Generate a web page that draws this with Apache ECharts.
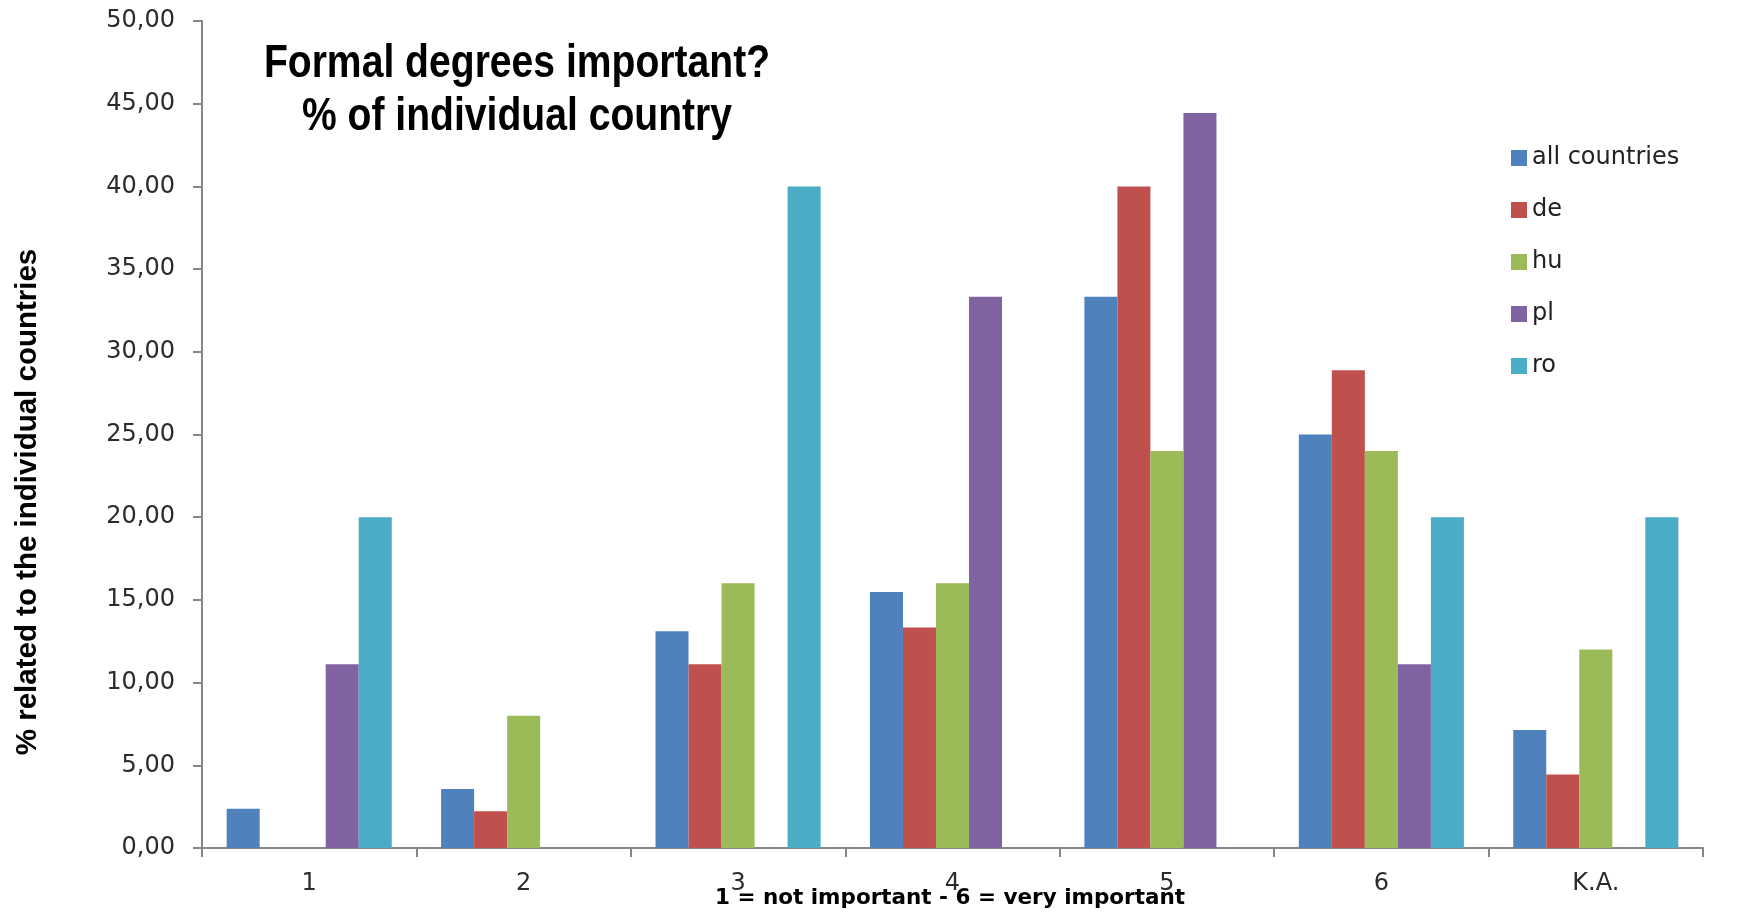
<!DOCTYPE html>
<html>
<head>
<meta charset="utf-8">
<script src="https://cdn.jsdelivr.net/npm/echarts@6/dist/echarts.min.js"></script>
<style>
  html, body { margin: 0; padding: 0; background: #ffffff; }
  #chart { width: 1739px; height: 918px; }
</style>
</head>
<body>
<div id="chart"></div>
<script>
// Answer categories: 1 (not important) ... 6 (very important), K.A. = no answer
const categories = ['1', '2', '3', '4', '5', '6', 'K.A.'];

// Share of respondents per answer, in % of each country
const allCountries = [2.38, 3.57, 13.10, 15.48, 33.33, 25.00, 7.14];
const de = [0, 2.22, 11.11, 13.33, 40.00, 28.89, 4.44];
const hu = [0, 8.00, 16.00, 16.00, 24.00, 24.00, 12.00];
const pl = [11.11, 0, 0, 33.33, 44.44, 11.11, 0];
const ro = [20.00, 0, 40.00, 0, 0, 20.00, 20.00];

const seriesNames = ['all countries', 'de', 'hu', 'pl', 'ro'];
const seriesValues = [allCountries, de, hu, pl, ro];
const colors = ['#4F81BD', '#C0504D', '#9BBB59', '#8064A2', '#4BACC6'];

// Value axis ticks
const yMin = 0;
const yMax = 50;
const yStep = 5;

const labelFont = '"DejaVu Sans", sans-serif';
const titleFont = '"Liberation Sans", Arial, sans-serif';
const axisGray = '#868686';

const chart = echarts.init(document.getElementById('chart'), null, { renderer: 'canvas' });

chart.setOption({
  animation: false,
  backgroundColor: '#ffffff',
  color: colors,
  grid: { left: 202, top: 21, right: 36, bottom: 70, containLabel: false },
  legend: {
    orient: 'vertical',
    left: 1511,
    top: 146,
    padding: 0,
    itemWidth: 16,
    itemHeight: 16,
    itemGap: 28,
    icon: 'rect',
    data: seriesNames,
    textStyle: { fontFamily: labelFont, fontSize: 24, lineHeight: 24, color: '#222222' }
  },
  xAxis: {
    type: 'category',
    data: categories,
    axisLine: { show: true, lineStyle: { color: axisGray, width: 2 } },
    axisTick: { show: true, alignWithLabel: false, length: 9, lineStyle: { color: axisGray, width: 2 } },
    axisLabel: { fontFamily: labelFont, fontSize: 24, color: '#2b2b2b', margin: 24 },
    splitLine: { show: false }
  },
  yAxis: {
    type: 'value',
    min: yMin,
    max: yMax,
    interval: yStep,
    axisLine: { show: true, lineStyle: { color: axisGray, width: 2 } },
    axisTick: { show: true, length: 9, lineStyle: { color: axisGray, width: 2 } },
    axisLabel: {
      fontFamily: labelFont, fontSize: 24, color: '#2b2b2b', margin: 27,
      formatter: v => v.toFixed(2).replace('.', ',')
    },
    splitLine: { show: false }
  },
  series: seriesValues.map((vals, i) => ({
    name: seriesNames[i],
    type: 'bar',
    data: vals,
    barGap: '0%',
    barCategoryGap: '23%',
    itemStyle: { color: colors[i] }
  })),
  graphic: [
    {
      // chart title, condensed bold
      type: 'text',
      x: 517,
      y: 91,
      scaleX: 0.85,
      style: {
        text: 'Formal degrees important?\n% of individual country',
        x: 0, y: 0,
        align: 'center',
        verticalAlign: 'middle',
        fontFamily: titleFont,
        fontWeight: 'bold',
        fontSize: 46,
        lineHeight: 53,
        fill: '#000000'
      }
    },
    {
      // value axis title
      type: 'text',
      rotation: Math.PI / 2,
      x: 28,
      y: 502,
      style: {
        text: '% related to the individual countries',
        x: 0, y: 0,
        align: 'center',
        verticalAlign: 'middle',
        fontFamily: titleFont,
        fontWeight: 'bold',
        fontSize: 29.5,
        fill: '#000000'
      }
    },
    {
      // category axis title
      type: 'text',
      x: 950,
      y: 898,
      style: {
        text: '1 = not important - 6 = very important',
        x: 0, y: 0,
        align: 'center',
        verticalAlign: 'middle',
        fontFamily: labelFont,
        fontWeight: 'bold',
        fontSize: 21.5,
        fill: '#000000'
      }
    }
  ]
});
</script>
</body>
</html>
